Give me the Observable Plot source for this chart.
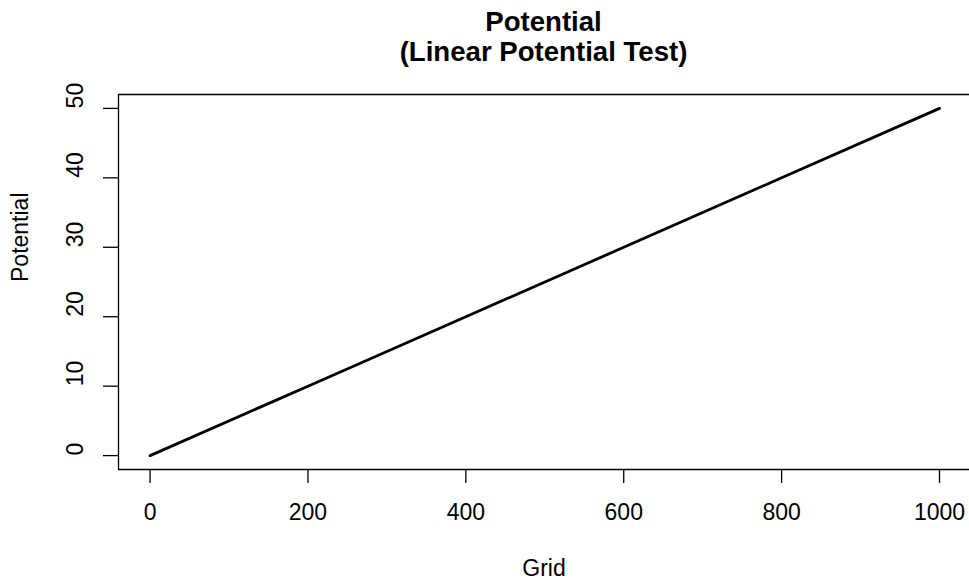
<!DOCTYPE html>
<html>
<head>
<meta charset="utf-8">
<script src="https://cdn.jsdelivr.net/npm/d3@7"></script>
<script src="https://cdn.jsdelivr.net/npm/@observablehq/plot@0.6"></script>
<style>
  html, body { margin: 0; padding: 0; background: white; overflow: hidden; }
  #wrap { width: 969px; height: 580px; overflow: hidden; position: relative; }
  #title {
    box-sizing: border-box;
    height: 80px;
    padding-top: 7.4px;
    padding-left: 118px;
    width: 969px;
    text-align: center;
    font-family: "Liberation Sans", Arial, Helvetica, sans-serif;
    font-weight: bold;
    font-size: 27.6px;
    line-height: 30px;
    color: black;
  }
  #chart svg { overflow: hidden; max-width: none; }
</style>
</head>
<body>
<div id="wrap">
  <div id="title">Potential<br>(Linear Potential Test)</div>
  <div id="chart"></div>
</div>
<script>
// Grid positions and the potential at each one
const grid = [0, 200, 400, 600, 800, 1000];
const potential = [0, 10, 20, 30, 40, 50];

// Axis tick values
const xTicks = [0, 200, 400, 600, 800, 1000];
const yTicks = [0, 10, 20, 30, 40, 50];

// Plot box limits (padding around the data range)
const xLimits = [-40, 1038];
const yLimits = [-2, 52];

const rows = grid.map((g, i) => ({grid: g, potential: potential[i]}));

// The plot box's right side falls just past the edge of the page,
// so only its top, bottom and left sides are drawn
const chart = Plot.plot({
  width: 969,
  height: 500,
  marginTop: 14,
  marginBottom: 111,
  marginLeft: 118,
  marginRight: 0,
  style: {
    fontFamily: "'Liberation Sans', Arial, Helvetica, sans-serif",
    fontSize: "23px",
    background: "white",
    color: "black"
  },
  x: {domain: xLimits},
  y: {domain: yLimits},
  marks: [
    Plot.ruleY(yLimits, {stroke: "black", strokeWidth: 1.3}),
    Plot.ruleX([xLimits[0]], {stroke: "black", strokeWidth: 1.3}),
    Plot.axisX({ticks: xTicks, tickSize: 14, tickFormat: () => "", label: null, strokeWidth: 1.3}),
    Plot.axisY({ticks: yTicks, tickSize: 15, tickFormat: () => "", label: null, strokeWidth: 1.3}),
    Plot.text(xTicks, {
      x: d => d, frameAnchor: "bottom", dy: 43, lineAnchor: "middle",
      text: d => String(d), fill: "black", fontSize: 23
    }),
    Plot.text(yTicks, {
      y: d => d, frameAnchor: "left", dx: -43, rotate: -90, lineAnchor: "middle",
      text: d => String(d), fill: "black", fontSize: 23
    }),
    Plot.text(["Grid"], {
      frameAnchor: "bottom", dy: 99, lineAnchor: "middle",
      text: d => d, fill: "black", fontSize: 23
    }),
    Plot.text(["Potential"], {
      frameAnchor: "left", dx: -97.5, rotate: -90, lineAnchor: "middle",
      text: d => d, fill: "black", fontSize: 23
    }),
    Plot.line(rows, {x: "grid", y: "potential", stroke: "black", strokeWidth: 2.8})
  ]
});

document.getElementById("chart").appendChild(chart);
</script>
</body>
</html>
